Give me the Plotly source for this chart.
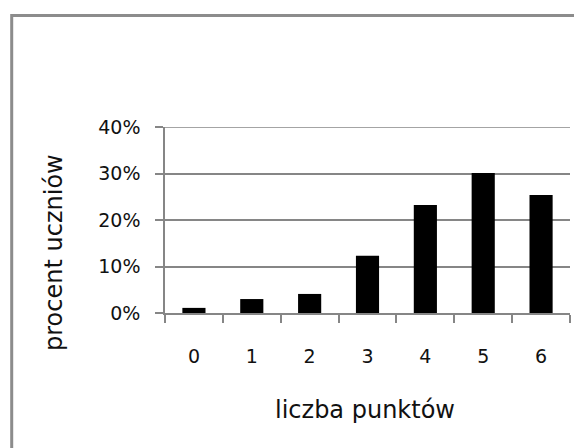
import plotly.graph_objects as go

categories = ["0", "1", "2", "3", "4", "5", "6"]
values = [0.011, 0.030, 0.041, 0.123, 0.232, 0.301, 0.254]
y_ticks = [0, 0.1, 0.2, 0.3, 0.4]
x_title = "liczba punktów"
y_title = "procent uczniów"

GRAY = "#868686"
FONT = "DejaVu Sans"

fig = go.Figure(go.Bar(x=categories, y=values, marker=dict(color="black", line=dict(width=0))))

fig.update_layout(
    width=574, height=440,
    margin=dict(l=157, r=11.5, t=119, b=135, autoexpand=False),
    paper_bgcolor="white", plot_bgcolor="white",
    bargap=0.6, showlegend=False,
    font=dict(family=FONT, color="#111111", size=19),
)
fig.update_xaxes(
    type="category", showline=True, linecolor=GRAY, linewidth=1.5,
    ticks="outside", tickson="boundaries", ticklen=8, tickcolor=GRAY, tickwidth=1.5,
    showgrid=False, ticklabelstandoff=25, tickfont=dict(size=19),
)
fig.update_yaxes(
    range=[0, max(y_ticks)], tickvals=y_ticks, tickformat=".0%",
    showline=True, linecolor=GRAY, linewidth=1.5,
    showgrid=True, gridcolor=GRAY, gridwidth=1.5, zeroline=False,
    ticks="outside", ticklen=8, tickcolor=GRAY, tickwidth=1.5,
    ticklabelstandoff=11, tickfont=dict(size=19),
)
# top gridline at the range edge (plotly omits it)
fig.add_shape(type="line", xref="paper", yref="y", x0=0, x1=1, y0=max(y_ticks), y1=max(y_ticks),
              line=dict(color=GRAY, width=1.5), layer="below")
fig.add_annotation(text=x_title, xref="paper", yref="paper", x=0.495, y=-0.52,
                   xanchor="center", yanchor="middle", showarrow=False,
                   font=dict(size=24, family=FONT, color="#111111"))
fig.add_annotation(text=y_title, xref="paper", yref="paper", x=-0.274, y=0.323,
                   xanchor="center", yanchor="middle", showarrow=False, textangle=-90,
                   font=dict(size=24, family=FONT, color="#111111"))
fig.add_shape(type="rect", xref="paper", yref="paper", x0=-0.3785, y0=1.5995, x1=1.3, y1=-0.9,
              line=dict(color="#8c8c8c", width=3), fillcolor="rgba(0,0,0,0)", layer="below")

fig.write_html("out.html")
